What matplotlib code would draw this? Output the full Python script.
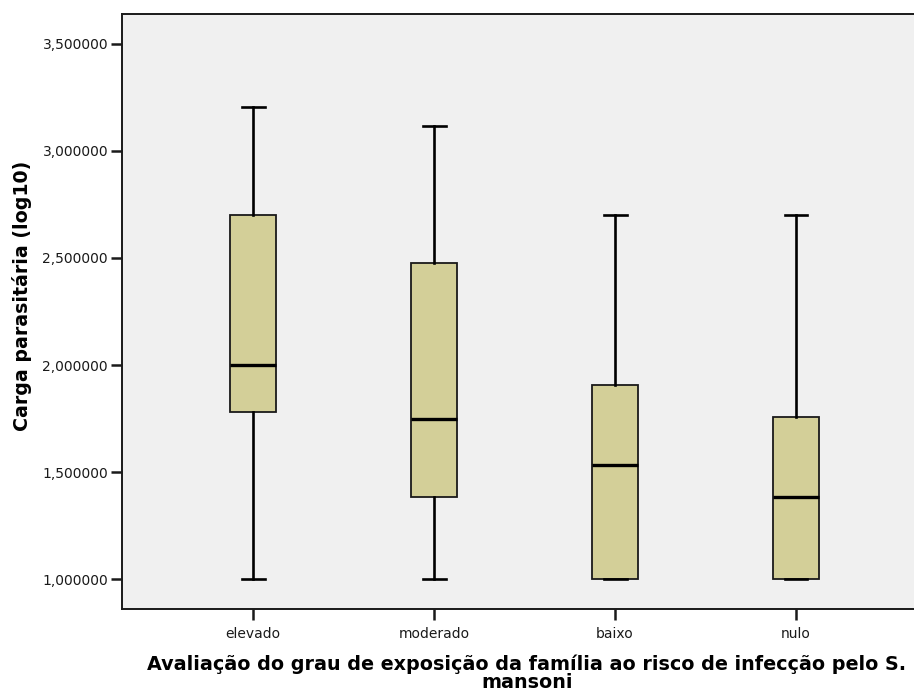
import matplotlib
matplotlib.use("Agg")
import matplotlib.pyplot as plt

# data
categories = ['elevado', 'moderado', 'baixo', 'nulo']
whisker_low = [1.0, 1.0, 1.0, 1.0]
q1 = [1.779, 1.382, 1.0, 1.0]
medians = [2.0, 1.748, 1.532, 1.383]
q3 = [2.70, 2.478, 1.905, 1.755]
whisker_high = [3.205, 3.116, 2.70, 2.70]
y_ticks = [1.0, 1.5, 2.0, 2.5, 3.0, 3.5]

plt.rcParams['font.family'] = ['DejaVu Sans']

fig = plt.figure(figsize=(9.14, 6.93), dpi=100)
ax = fig.add_axes([122 / 914, 84 / 693, 1 - 122 / 914, 595 / 693])
ax.set_facecolor('#F0F0F0')

# build the stats dictionaries that bxp needs
stats = []
for i, cat in enumerate(categories):
    stats.append({'label': cat, 'whislo': whisker_low[i], 'q1': q1[i],
                  'med': medians[i], 'q3': q3[i], 'whishi': whisker_high[i],
                  'fliers': []})

ax.bxp(stats, positions=range(len(categories)), widths=0.25, patch_artist=True,
       showfliers=False,
       boxprops=dict(facecolor='#D3CF98', edgecolor='#1a1a1a', linewidth=1.3),
       medianprops=dict(color='black', linewidth=2.4),
       whiskerprops=dict(color='black', linewidth=1.9),
       capprops=dict(color='black', linewidth=1.9),
       capwidths=0.127)

ax.set_xlim(-0.724, 3.652)
ax.set_ylim(0.86, 3.64)

ax.set_yticks(y_ticks)
ax.set_yticklabels([('%.6f' % v).replace('.', ',') for v in y_ticks])
ax.set_xticks(range(len(categories)))
ax.set_xticklabels(categories)
ax.tick_params(axis='both', length=8, width=1.8, color='#1a1a1a', labelsize=10,
               labelcolor='#1a1a1a')
ax.tick_params(axis='x', pad=5)
ax.tick_params(axis='y', pad=2)

for side in ['left', 'bottom', 'top']:
    ax.spines[side].set_color('#1a1a1a')
    ax.spines[side].set_linewidth(1.4)
ax.spines['right'].set_visible(False)

fig.text(22 / 914, 1 - 296 / 693, 'Carga parasitária (log10)', rotation=90,
         ha='center', va='center', fontsize=13.7, fontweight='bold')

fig.text(527 / 914, 1 - 673 / 693,
         'Avaliação do grau de exposição da família ao risco de infecção pelo S.\nmansoni',
         ha='center', va='center', fontsize=13.8, fontweight='bold', linespacing=0.9)

fig.savefig('out.png', dpi=100)
